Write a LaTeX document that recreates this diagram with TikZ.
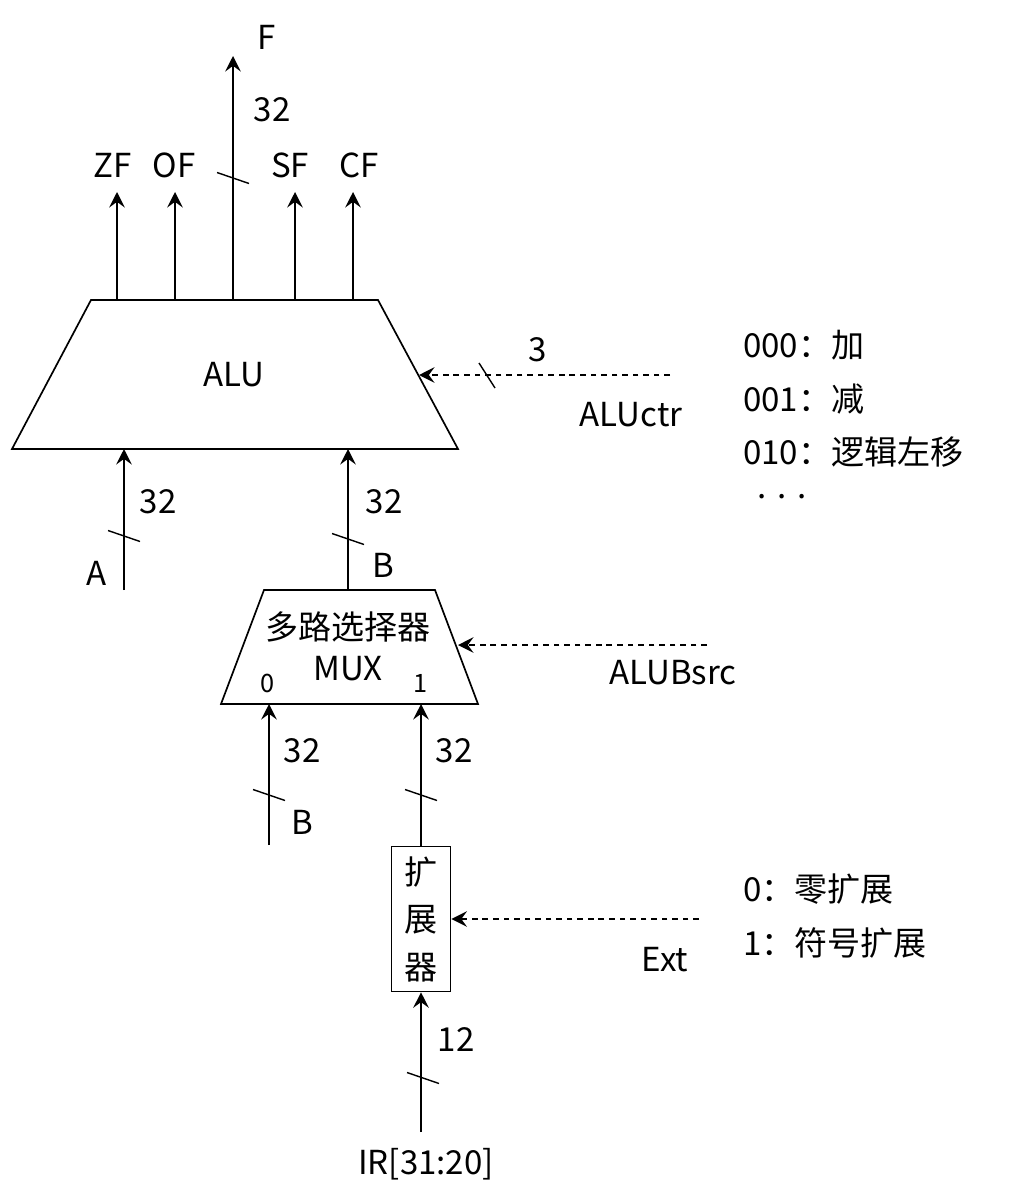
\documentclass[tikz,border=0pt]{standalone}
\usepackage{fontspec}
\setmainfont{Noto Sans CJK SC}
\usetikzlibrary{arrows.meta}

\begin{document}
\begin{tikzpicture}[
    x=0.025cm, y=-0.025cm,
    every node/.style={font=\fontsize{23.5}{27}\selectfont, inner sep=0pt},
    sm/.style={font=\fontsize{18}{21}\selectfont},
    blk/.style={draw=black, line width=1.2pt},
    sig/.style={draw=black, line width=1.2pt,
        -{Stealth[length=11pt, width=11pt, inset=4pt]}},
    ctl/.style={sig, dash pattern=on 4pt off 3.5pt},
    tick/.style={draw=black, line width=1pt},
    bus/.pic={\draw[tick] (-16,-5.5) -- (16,5.5);},
]
    \useasboundingbox (0,0) rectangle (1024,1195);

    % ALU
    \draw[blk] (91,300) -- (378,300) -- (458,449) -- (12,449) -- cycle;
    \node (alu) at (234,375) {ALU};
    \coordinate (alu a)   at (124,449);
    \coordinate (alu b)   at (348,449);
    \coordinate (alu ctl) at (419,375);

    % Flags and result
    \foreach \n/\t/\x/\lx in {zf/ZF/117/113, of/OF/175/174,
        sf/SF/295/290, cf/CF/353/359} {
        \coordinate (\n) at (\x,300);
        \coordinate (\n end) at (\x,192);
        \node (\n lbl) at (\lx,165) {\t};
        \draw[sig] (\n) -- (\n end);
    }
    \coordinate (f) at (233,300);
    \coordinate (f end) at (233,56);
    \node (f lbl) at (267,37) {F};
    \node (f w) at (272,110) {32};
    \draw[sig] (f) -- (f end);
    \pic at (233,178) {bus};

    % ALUctr
    \coordinate (aluctr) at (670,375);
    \draw[ctl] (aluctr) -- (alu ctl);
    \draw[tick] (479,363) -- (495,388);
    \node (ctl w) at (538,350) {3};
    \node (ctl lbl) at (631,415) {ALUctr};
    \node[anchor=west] (op0) at (743,345) {000：加};
    \node[anchor=west] (op1) at (743,399) {001：减};
    \node[anchor=west] (op2) at (743,452) {010：逻辑左移};
    \node (op dots) at (782,497) {.\,\,.\,\,.};

    % Input A
    \coordinate (a in) at (124,590);
    \draw[sig] (a in) -- (alu a);
    \pic at (124,536) {bus};
    \node (a w) at (158,502) {32};
    \node (a lbl) at (97,573) {A};

    % MUX
    \draw[blk] (264,590) -- (435,590) -- (478,704) -- (221,704) -- cycle;
    \node (mux) at (348,627) {多路选择器};
    \node (mux name) at (348,669) {MUX};
    \node[sm] (mux 0) at (268,683) {0};
    \node[sm] (mux 1) at (421,683) {1};
    \coordinate (mux out) at (348,590);
    \coordinate (mux in0) at (269,704);
    \coordinate (mux in1) at (421,704);
    \coordinate (mux ctl) at (458,645);
    \draw[sig] (mux out) -- (alu b);
    \pic at (348,539) {bus};
    \node (b w) at (384,502) {32};
    \node (b lbl) at (383,565) {B};

    % ALUBsrc
    \coordinate (alubsrc) at (707,645);
    \draw[ctl] (alubsrc) -- (mux ctl);
    \node (src lbl) at (673,673) {ALUBsrc};

    % MUX inputs
    \coordinate (b in) at (269,845);
    \draw[sig] (b in) -- (mux in0);
    \pic at (269,795) {bus};
    \node (b0 w) at (302,751) {32};
    \node (b0 lbl) at (302,822) {B};

    % Extender
    \node[blk, minimum width=1.48cm, minimum height=3.62cm, align=center,
        font=\fontsize{23.5}{33.8}\selectfont] (ext) at (421,919)
        {扩\\展\\器};
    \draw[sig] (ext.north) -- (mux in1);
    \pic at (421,795) {bus};
    \node (ext w) at (454,751) {32};

    % Ext
    \coordinate (extctl) at (699,919);
    \draw[ctl] (extctl) -- (ext.east);
    \node (ext lbl) at (665,960) {Ext};
    \node[anchor=west] (ext0) at (743,889) {0：零扩展};
    \node[anchor=west] (ext1) at (743,943) {1：符号扩展};

    % IR field
    \coordinate (ir) at (421,1132);
    \draw[sig] (ir) -- (ext.south);
    \pic at (423,1078) {bus};
    \node (ir w) at (456,1039) {12};
    \node (ir lbl) at (426,1164) {IR[31:20]};
\end{tikzpicture}
\end{document}
